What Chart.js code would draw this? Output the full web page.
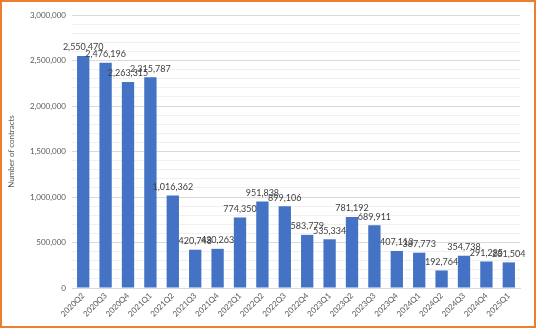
<!DOCTYPE html>
<html>
<head>
<meta charset="utf-8">
<script src="https://cdn.jsdelivr.net/npm/chart.js@4"></script>
<style>
  html, body { margin: 0; padding: 0; background: #fff; }
  #wrap { width: 536px; height: 328px; box-sizing: border-box; border: 2px solid #ED7D31; }
  canvas { display: block; }
</style>
</head>
<body>
<div id="wrap"><canvas id="chart" width="532" height="324"></canvas></div>
<script>
const quarters = ['2020Q2', '2020Q3', '2020Q4', '2021Q1', '2021Q2', '2021Q3', '2021Q4',
  '2022Q1', '2022Q2', '2022Q3', '2022Q4', '2023Q1', '2023Q2', '2023Q3', '2023Q4',
  '2024Q1', '2024Q2', '2024Q3', '2024Q4', '2025Q1'];
const contracts = [2550470, 2476196, 2263315, 2315787, 1016362, 420748, 430263,
  774350, 951838, 899106, 583779, 535334, 781192, 689911, 407113,
  387773, 192764, 354738, 291285, 281504];
const yMax = 3000000;
const yMajorStep = 500000;
const yMinorStep = 100000;

const fmt = n => n.toLocaleString('en-US');

// value labels above each bar
const barLabels = {
  id: 'barLabels',
  afterDatasetsDraw(chart) {
    const ctx = chart.ctx;
    const meta = chart.getDatasetMeta(0);
    ctx.save();
    ctx.font = '9px Lato, "Liberation Sans", sans-serif';
    ctx.fillStyle = '#404040';
    ctx.textAlign = 'center';
    ctx.textBaseline = 'bottom';
    meta.data.forEach((bar, i) => {
      ctx.fillText(fmt(contracts[i]), bar.x, bar.y - 4);
    });
    ctx.restore();
  }
};

new Chart(document.getElementById('chart'), {
  type: 'bar',
  data: {
    labels: quarters,
    datasets: [{
      data: contracts,
      backgroundColor: '#4472C4',
      barPercentage: 0.55,
      categoryPercentage: 1
    }]
  },
  options: {
    responsive: false,
    animation: false,
    layout: { padding: { top: 13, right: 14, bottom: 0, left: 0 } },
    plugins: { legend: { display: false }, tooltip: { enabled: false } },
    scales: {
      x: {
        grid: { display: false, drawTicks: false },
        border: { color: '#d9d9d9', width: 1 },
        ticks: {
          color: '#595959',
          font: { family: 'Lato, "Liberation Sans", sans-serif', size: 8 },
          maxRotation: 45,
          minRotation: 45,
          padding: 3,
          autoSkip: false
        },
        afterFit(scale) { scale.height = 38; }
      },
      y: {
        min: 0,
        max: yMax,
        border: { display: false },
        grid: {
          drawTicks: false,
          color: ctx => (ctx.tick && ctx.tick.value % yMajorStep === 0) ? '#d9d9d9' : '#f0f0f0',
          lineWidth: 1
        },
        ticks: {
          stepSize: yMinorStep,
          color: '#595959',
          font: { family: 'Lato, "Liberation Sans", sans-serif', size: 8 },
          padding: 6,
          autoSkip: false,
          callback: v => (v % yMajorStep === 0) ? fmt(v) : ''
        },
        title: {
          display: true,
          text: 'Number of contracts',
          color: '#595959',
          font: { family: 'Lato, "Liberation Sans", sans-serif', size: 8 },
          padding: { top: 5, bottom: 0 }
        },
        afterFit(scale) { scale.width = 70; }
      }
    }
  },
  plugins: [barLabels]
});
</script>
</body>
</html>
